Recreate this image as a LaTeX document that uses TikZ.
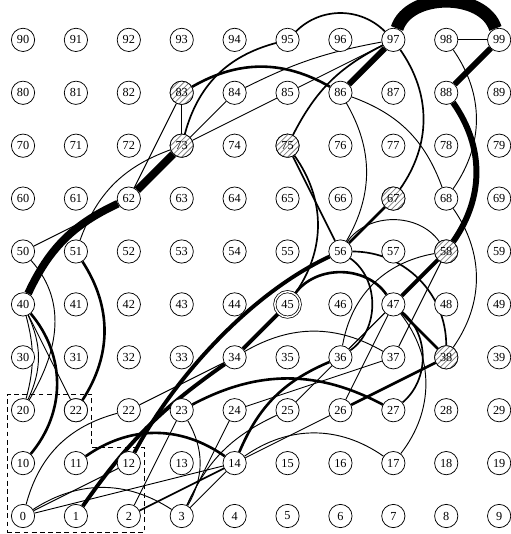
\documentclass[tikz,border=0pt]{standalone}
\usepackage{fontspec}
\setmainfont{Liberation Serif}
\usetikzlibrary{patterns,backgrounds}

\tikzset{
  vertex/.style={circle, draw, fill=white, minimum size=0.44cm, inner sep=0pt,
    line width=0.4pt, font=\fontsize{6.6}{7}\selectfont},
  hatched/.style={preaction={fill=white}, pattern=north east lines, pattern color=gray},
  ring/.style={double, double distance=0.8pt, minimum size=0.44cm+1.2pt},
  w1/.style={line width=0.5pt},
  w2/.style={line width=0.9pt},
  w3/.style={line width=1.4pt},
  w4/.style={line width=2.1pt},
  w5/.style={line width=3.2pt},
  w6/.style={line width=4.2pt},
  w7/.style={line width=7pt}
}

\begin{document}
\begin{tikzpicture}
\useasboundingbox (-0.435,-0.34) rectangle (9.206,9.754);

% grid of cells
\foreach \r in {0,...,9}
  \foreach \c in {0,...,9}{
    \pgfmathtruncatemacro\k{10*\r+\c}
    \node[vertex] (n\k) at (\c,\r) {\k};
  }
\node[vertex] (n21) at (1,2) {22};
\foreach \k/\c/\r in {83/3/8, 73/3/7, 75/5/7, 67/7/6, 58/8/5, 38/8/3}
  \node[vertex, hatched] (n\k) at (\c,\r) {\k};
\node[vertex, ring] (n45) at (5,4) {45};

% region
\draw[dash pattern=on 2.6pt off 1.8pt, line width=0.4pt]
  (-0.3,-0.3) -- (2.3,-0.3) -- (2.3,1.3) -- (1.3,1.3) -- (1.3,2.3) -- (-0.3,2.3) -- cycle;

\begin{pgfonlayer}{background}
% top part
\draw[w7] (n97) to[bend left=72] (n99);
\draw[w5] (n99) -- (n88);
\draw[w1] (n98) -- (n99);
\draw[w5] (n97) -- (n86);
\draw[w5] (n88) to[bend left=35] (n58);
\draw[w4] (n58) -- (n47);
\draw[w6] (n73) -- (n62);
\draw[w6] (n62) to[bend right=20] (n40);
\draw[w3] (n40) to[bend left=40] (n10);
\draw[w1] (n40) to[bend left=15] (n20);
\draw[w1] (n40) to[bend left=25] (n20);
\draw[w1] (n50) .. controls +(0.9,-1) and +(0.6,1) .. (n20);
\draw[w1] (n40) -- (n21);
\draw[w3] (n51) to[bend left=33] (n21);
\draw[w1] (n50) -- (n62);
\draw[w1] (n51) to[bend left=25] (n73);
\draw[w1] (n62) -- (n83);
\draw[w1] (n83) -- (n73);
\draw[w3] (n83) to[bend left=30] (n86);
\draw[w1] (n73) -- (n84);
\draw[w1] (n73) -- (n85);
\draw[w2] (n73) to[bend left=30] (n95);
\draw[w2] (n95) to[bend left=45] (n97);
\draw[w2] (n97) to[bend left=35] (n67);
\draw[w3] (n67) -- (n56);
\draw[w2] (n75) to[bend left=18] (n97);
\draw[w2] (n75) -- (n56);
\draw[w2] (n75) to[bend left=35] (n45);
\draw[w1] (n86) to[bend left=30] (n56);
\draw[w1] (n86) to[bend left=25] (n68);
\draw[w1] (n98) to[bend left=35] (n68);
\draw[w1] (n68) to[bend left=35] (n38);
\draw[w1] (n85) -- (n97);
\draw[w1] (n84) to[bend left=8] (n97);
% middle part
\draw[w4] (n56) to[out=205, in=62, looseness=0.8] (n12);
\draw[w4] (n45) -- (n34);
\draw[w4] (n34) to[bend right=10] (n1);
\draw[w3] (n45) to[bend left=55] (n47);
\draw[w3] (n47) -- (n38);
\draw[w1] (n56) to[bend left=55] (n58);
\draw[w2] (n56) to[bend left=45] (n38);
\draw[w2] (n56) to[bend left=55] (n36);
\draw[w1] (n58) to[bend right=35] (n36);
\draw[w1] (n47) -- (n36);
\draw[w1] (n37) -- (n58);
\draw[w1] (n34) to[bend left=30] (n37);
% lower part
\draw[w3] (n14) to[bend left=22] (n36);
\draw[w3] (n26) -- (n38);
\draw[w3] (n23) to[bend left=28] (n27);
\draw[w3] (n11) to[bend left=35] (n14);
\draw[w2] (n47) to[bend left=50] (n27);
\draw[w1] (n47) to[bend left=38] (n17);
\draw[w1] (n47) -- (n26);
\draw[w1] (n47) -- (n25);
\draw[w1] (n24) -- (n37);
\draw[w1] (n0) -- (n12);
\draw[w1] (n0) -- (n14);
\draw[w1] (n0) to[bend left=30] (n22);
\draw[w1] (n0) to[bend left=33] (n3);
\draw[w1] (n2) -- (n23);
\draw[w2] (n2) -- (n14);
\draw[w1] (n3) -- (n14);
\draw[w1] (n3) -- (n24);
\draw[w1] (n3) to[bend left=20] (n25);
\draw[w1] (n23) to[bend left=30] (n3);
\draw[w1] (n14) -- (n26);
\draw[w1] (n14) to[bend left=35] (n17);
\draw[w1] (n22) -- (n34);
\end{pgfonlayer}
\end{tikzpicture}
\end{document}
